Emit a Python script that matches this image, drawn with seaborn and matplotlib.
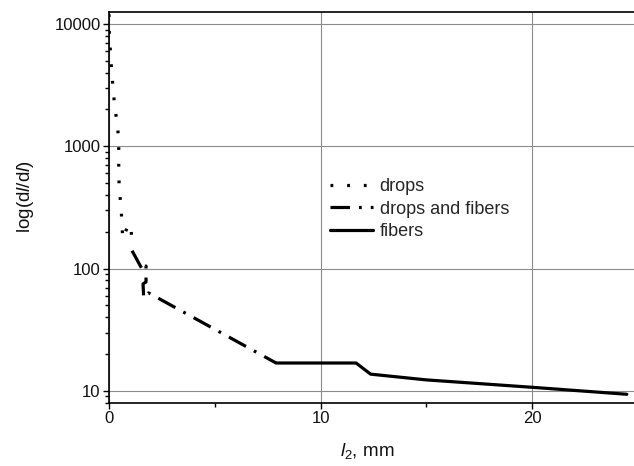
import numpy as np
import pandas as pd
import matplotlib
matplotlib.use("Agg")
import matplotlib.pyplot as plt
import seaborn as sns
from matplotlib.ticker import FixedLocator, FuncFormatter, LogLocator, MultipleLocator, NullFormatter

# ---- data ----
drops_x = [0.0, 0.01, 0.08, 0.13, 0.20, 0.27, 0.39, 0.46, 0.46, 0.46, 0.49, 0.57, 0.61, 0.65, 0.91, 1.03, 1.09]
drops_y = [12000, 8900, 5400, 4000, 2900, 2100, 1530, 1125, 820, 605, 440, 320, 235, 175, 228, 228, 160]

dnf_x = [1.09, 1.61, 1.75, 1.75, 1.61, 1.64, 1.87, 7.90]
dnf_y = [140, 95.7, 105, 77.8, 75, 57.5, 63.3, 16.9]

fib_x = [7.90, 11.68, 12.37, 15.0, 20.0, 24.48]
fib_y = [16.9, 16.9, 13.7, 12.3, 10.7, 9.38]

labels = ["drops", "drops and fibers", "fibers"]
x_ticks = [0, 10, 20]
y_ticks = [10, 100, 1000, 10000]

sns.set_style("white")
plt.rcParams["font.family"] = ["Liberation Sans", "DejaVu Sans"]
plt.rcParams["mathtext.fontset"] = "custom"
plt.rcParams["mathtext.it"] = "Liberation Sans:italic"
plt.rcParams["mathtext.rm"] = "Liberation Sans"
plt.rcParams["lines.scale_dashes"] = False

fig = plt.figure(figsize=(6.34, 4.66), dpi=100)
ax = fig.add_axes([109 / 634, 1 - 403 / 466, 525 / 634, 391 / 466])

df_d = pd.DataFrame({"x": drops_x, "y": drops_y})
df_df = pd.DataFrame({"x": dnf_x, "y": dnf_y})
df_f = pd.DataFrame({"x": fib_x, "y": fib_y})

sns.lineplot(data=df_d, x="x", y="y", ax=ax, sort=False, estimator=None,
             color="black", lw=2.3, label=labels[0])
ax.lines[-1].set_dashes((2, 10))
sns.lineplot(data=df_df, x="x", y="y", ax=ax, sort=False, estimator=None,
             color="black", lw=2.3, label=labels[1])
ax.lines[-1].set_dashes((14, 6.5, 2, 6.5))
sns.lineplot(data=df_f, x="x", y="y", ax=ax, sort=False, estimator=None,
             color="black", lw=2.3, label=labels[2])

ax.set_yscale("log")
ax.set_xlim(0, 24.82)
ax.set_ylim(7.96, 12530)

ax.xaxis.set_major_locator(FixedLocator(x_ticks))
ax.xaxis.set_minor_locator(MultipleLocator(5))
ax.yaxis.set_major_locator(FixedLocator(y_ticks))
ax.yaxis.set_major_formatter(FuncFormatter(lambda v, p: f"{int(round(v))}"))
ax.yaxis.set_minor_locator(LogLocator(base=10, subs=np.arange(2, 10)))
ax.yaxis.set_minor_formatter(NullFormatter())

ax.grid(True, which="major", color="#8c8c8c", lw=0.8)
ax.set_axisbelow(True)

for s in ["left", "bottom", "top"]:
    ax.spines[s].set_color("black")
    ax.spines[s].set_linewidth(1.2)
ax.spines["right"].set_visible(False)

ax.tick_params(axis="both", which="major", direction="out", length=4, width=1,
               color="black", labelsize=12, labelcolor="#111111", pad=2,
               left=True, bottom=True)
ax.tick_params(axis="both", which="minor", direction="out", length=3, width=1,
               color="black", left=True, bottom=True)
ax.tick_params(axis="x", which="major", pad=2)

ax.set_xlabel("$l_2$, mm", fontsize=13.5, color="#111111")
ax.set_ylabel("log(d$l$/d$l$)", fontsize=13.5, color="#111111")
ax.xaxis.set_label_coords(0.492, -0.097)
ax.yaxis.set_label_coords(-0.139, 0.527)

ax.legend(loc="upper left", bbox_to_anchor=(0.421, 0.575), frameon=False,
          fontsize=13, handlelength=2.4, handletextpad=0.35, labelspacing=0.3,
          borderpad=0, borderaxespad=0)

fig.savefig("out.png", dpi=100)
